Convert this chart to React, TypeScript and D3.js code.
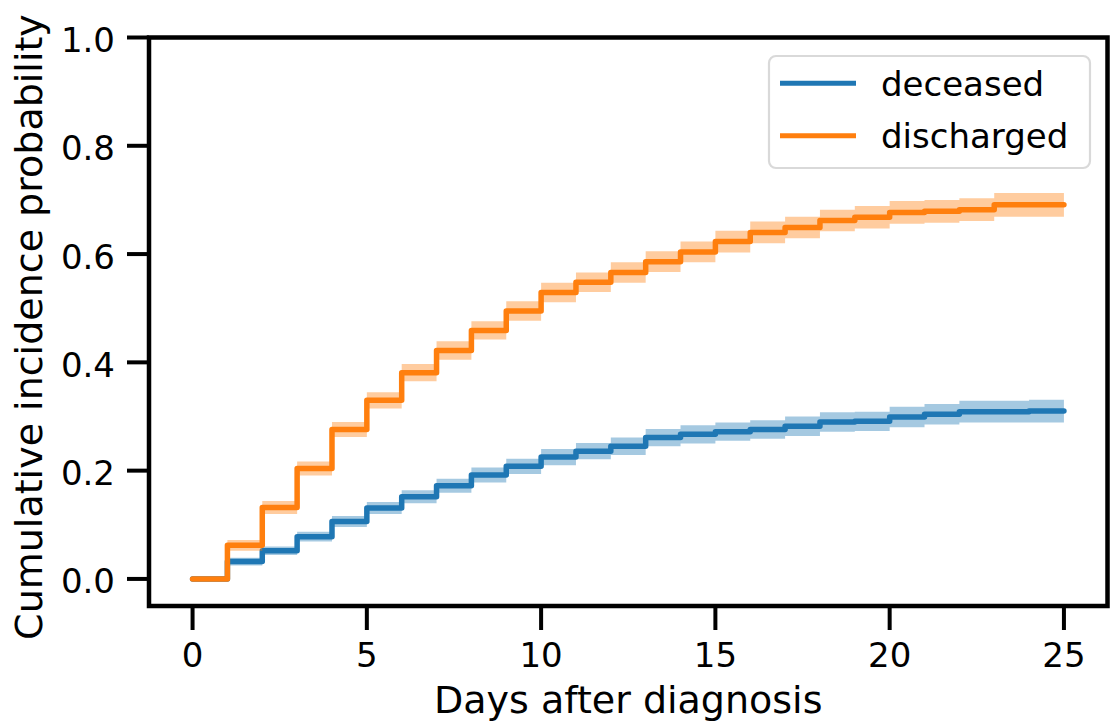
import React from "react";
import * as d3 from "d3";

const days = [0, 1, 2, 3, 4, 5, 6, 7, 8, 9, 10, 11, 12, 13, 14, 15, 16, 17, 18, 19, 20, 21, 22, 23, 24, 25];
const deceased = [0, 0.032, 0.052, 0.078, 0.106, 0.131, 0.152, 0.172, 0.192, 0.208, 0.225, 0.236, 0.245, 0.261, 0.267, 0.272, 0.276, 0.282, 0.29, 0.291, 0.299, 0.304, 0.309, 0.309, 0.31, 0.31];
const discharged = [0, 0.062, 0.132, 0.204, 0.276, 0.33, 0.381, 0.422, 0.459, 0.495, 0.529, 0.548, 0.566, 0.586, 0.604, 0.623, 0.64, 0.649, 0.662, 0.668, 0.677, 0.679, 0.682, 0.691, 0.691, 0.691];
const deceasedCI = [0, 0.007, 0.008, 0.009, 0.01, 0.011, 0.012, 0.013, 0.014, 0.014, 0.015, 0.015, 0.016, 0.016, 0.017, 0.017, 0.017, 0.018, 0.018, 0.018, 0.019, 0.019, 0.02, 0.02, 0.021, 0.021];
const dischargedCI = [0, 0.01, 0.012, 0.013, 0.014, 0.015, 0.016, 0.017, 0.017, 0.018, 0.018, 0.018, 0.019, 0.019, 0.019, 0.02, 0.02, 0.02, 0.02, 0.021, 0.021, 0.021, 0.021, 0.022, 0.022, 0.022];
const xTicks = [0, 5, 10, 15, 20, 25];
const yTicks = [0, 0.2, 0.4, 0.6, 0.8, 1.0];
const seriesNames = ["deceased", "discharged"];
const colors = ["#1f77b4", "#ff7f0e"];

const W = 1118;
const H = 727;
const L = 149, R = 1107.5, T = 37.5, B = 606;
const FONT = "DejaVu Sans";

export default function App() {
  const x = d3.scaleLinear().domain([-1.25, 26.25]).range([L, R]);
  const y = d3.scaleLinear().domain([-0.05, 1.0]).range([B, T]);

  const series = [
    { name: seriesNames[0], vals: deceased, ci: deceasedCI, color: colors[0] },
    { name: seriesNames[1], vals: discharged, ci: dischargedCI, color: colors[1] },
  ];

  const line = d3
    .line<number>()
    .x((_, i) => x(days[i]))
    .y((v) => y(v))
    .curve(d3.curveStepAfter);

  const makeArea = (ci: number[]) =>
    d3
      .area<number>()
      .x((_, i) => x(days[i]))
      .y0((v, i) => y(v - ci[i]))
      .y1((v, i) => y(v + ci[i]))
      .curve(d3.curveStepAfter);

  const legendX = 769, legendY = 56, legendW = 321, legendH = 112;
  const legendRows = [83.3, 135.7];

  return (
    <svg
      width={W}
      height={H}
      style={{ position: "absolute", left: 0, top: 0, display: "block", background: "#fff" }}
      fontFamily={FONT}
    >
      <rect x={0} y={0} width={W} height={H} fill="#fff" />
      <defs>
        <clipPath id="plotclip">
          <rect x={L} y={T} width={R - L} height={B - T} />
        </clipPath>
      </defs>
      <g clipPath="url(#plotclip)">
        {series.map((s) => (
          <g key={s.name}>
            <path d={makeArea(s.ci)(s.vals) || ""} fill={s.color} fillOpacity={0.4} stroke="none" />
            <path d={line(s.vals) || ""} fill="none" stroke={s.color} strokeWidth={5.5} strokeLinejoin="round" strokeLinecap="round" />
          </g>
        ))}
      </g>

      {/* legend */}
      <rect
        x={legendX}
        y={legendY}
        width={legendW}
        height={legendH}
        rx={7}
        ry={7}
        fill="#fff"
        fillOpacity={0.8}
        stroke="#d9d9d9"
        strokeWidth={2.2}
      />
      {series.map((s, i) => (
        <g key={"leg" + s.name}>
          <line x1={780} x2={856} y1={legendRows[i]} y2={legendRows[i]} stroke={s.color} strokeWidth={5} />
          <text x={881} y={legendRows[i] + 12.5} fontSize={34} fill="#000">
            {s.name}
          </text>
        </g>
      ))}

      {/* spines */}
      <rect x={L} y={T} width={R - L} height={B - T} fill="none" stroke="#000" strokeWidth={4.5} />

      {/* x ticks */}
      {xTicks.map((t) => (
        <g key={"xt" + t}>
          <line x1={x(t)} x2={x(t)} y1={B} y2={B + 24} stroke="#000" strokeWidth={4} />
          <text x={x(t)} y={667} fontSize={34} textAnchor="middle" fill="#000">
            {t}
          </text>
        </g>
      ))}
      {/* y ticks */}
      {yTicks.map((t) => (
        <g key={"yt" + t}>
          <line x1={L - 22} x2={L} y1={y(t)} y2={y(t)} stroke="#000" strokeWidth={4} />
          <text x={115} y={y(t) + 14.5} fontSize={34} textAnchor="end" fill="#000">
            {t.toFixed(1)}
          </text>
        </g>
      ))}

      <text x={(x(0) + x(25)) / 2} y={713} fontSize={38} textAnchor="middle" fill="#000">
        Days after diagnosis
      </text>
      <text
        transform={`translate(42, 327) rotate(-90)`}
        fontSize={38}
        textAnchor="middle"
        fill="#000"
      >
        Cumulative incidence probability
      </text>
    </svg>
  );
}
